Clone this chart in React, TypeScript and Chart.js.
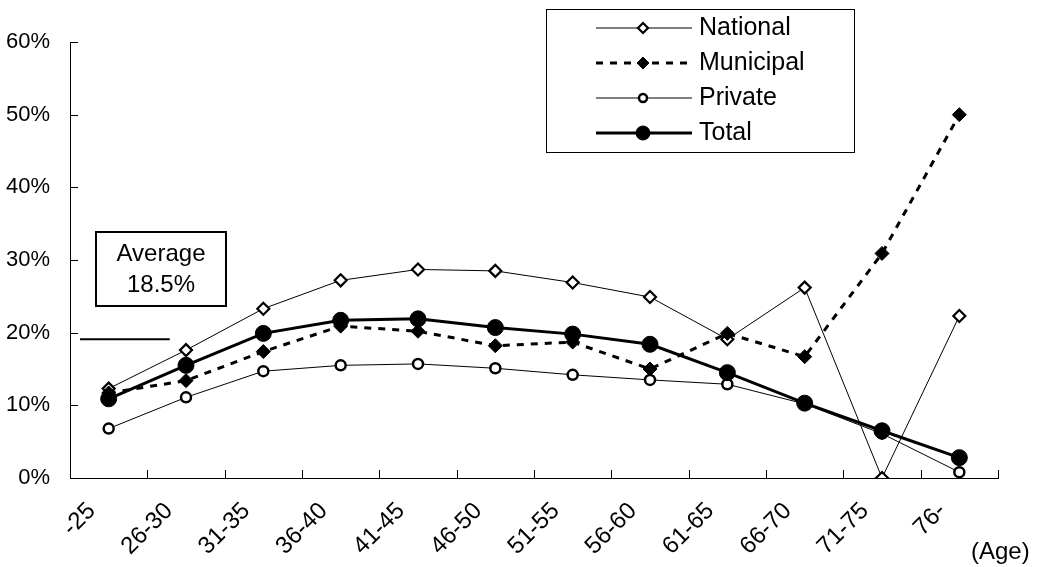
import React, { useEffect, useRef } from "react";
import { Chart, registerables } from "chart.js";

Chart.register(...registerables);

const ageLabels = ["-25", "26-30", "31-35", "36-40", "41-45", "46-50", "51-55", "56-60", "61-65", "66-70", "71-75", "76-"];
const nationalValues = [12.3, 17.6, 23.3, 27.2, 28.7, 28.5, 26.9, 24.9, 19.1, 26.2, 0, 22.3];
const municipalValues = [11.7, 13.4, 17.4, 20.9, 20.2, 18.2, 18.7, 15.0, 19.9, 16.7, 30.9, 50.0];
const privateValues = [6.8, 11.1, 14.7, 15.5, 15.7, 15.1, 14.2, 13.5, 12.9, 10.2, 6.1, 0.8];
const totalValues = [10.9, 15.5, 19.9, 21.7, 21.9, 20.7, 19.8, 18.4, 14.5, 10.3, 6.5, 2.8];
const yTickValues = [0, 10, 20, 30, 40, 50, 60];
const averageLineValue = 19.1;
const averageText = ["Average", "18.5%"];
const axisTitle = "(Age)";

const FONT = "'Liberation Sans', Arial, sans-serif";

type Series = {
  label: string;
  data: number[];
  width: number;
  dash: number[];
  style: "diamond" | "circle";
  filled: boolean;
  radius: number;
  pointBorder: number;
};

const seriesList: Series[] = [
  { label: "National", data: nationalValues, width: 1, dash: [], style: "diamond", filled: false, radius: 6, pointBorder: 2.2 },
  { label: "Municipal", data: municipalValues, width: 3, dash: [7, 7], style: "diamond", filled: true, radius: 7, pointBorder: 1 },
  { label: "Private", data: privateValues, width: 1, dash: [], style: "circle", filled: false, radius: 5, pointBorder: 2.5 },
  { label: "Total", data: totalValues, width: 3, dash: [], style: "circle", filled: true, radius: 8, pointBorder: 1 },
];

function drawMarker(ctx: CanvasRenderingContext2D, s: Series, cx: number, cy: number) {
  ctx.save();
  ctx.setLineDash([]);
  ctx.beginPath();
  if (s.style === "diamond") {
    const r = s.radius;
    ctx.moveTo(cx, cy - r);
    ctx.lineTo(cx + r, cy);
    ctx.lineTo(cx, cy + r);
    ctx.lineTo(cx - r, cy);
    ctx.closePath();
  } else {
    ctx.arc(cx, cy, s.radius, 0, Math.PI * 2);
  }
  ctx.fillStyle = s.filled ? "#000" : "#fff";
  ctx.fill();
  ctx.lineWidth = s.pointBorder;
  ctx.strokeStyle = "#000";
  ctx.stroke();
  ctx.restore();
}

const overlayPlugin = {
  id: "overlay",
  afterDraw(chart: any) {
    const { ctx, chartArea: a, scales } = chart;
    const x = scales.x;
    const y = scales.y;
    ctx.save();
    // inner ticks
    ctx.strokeStyle = "#000";
    ctx.lineWidth = 1;
    for (let i = 0; i <= ageLabels.length; i++) {
      const px = Math.round(x.getPixelForValue(i - 0.5)) + 0.5;
      ctx.beginPath();
      ctx.moveTo(px, a.bottom);
      ctx.lineTo(px, a.bottom - 8);
      ctx.stroke();
    }
    for (const v of yTickValues) {
      const py = Math.round(y.getPixelForValue(v)) + 0.5;
      ctx.beginPath();
      ctx.moveTo(a.left, py);
      ctx.lineTo(a.left + 8, py);
      ctx.stroke();
    }
    // average line
    const ay = y.getPixelForValue(averageLineValue);
    ctx.lineWidth = 2;
    ctx.beginPath();
    ctx.moveTo(x.getPixelForValue(-0.37), ay);
    ctx.lineTo(x.getPixelForValue(0.79), ay);
    ctx.stroke();
    // average box
    const bx = a.left + 26;
    const bw = 130;
    const by = 232;
    const bh = 74;
    ctx.lineWidth = 2;
    ctx.strokeRect(bx, by, bw, bh);
    ctx.fillStyle = "#000";
    ctx.font = `24px ${FONT}`;
    ctx.textAlign = "center";
    ctx.textBaseline = "middle";
    ctx.fillText(averageText[0], bx + bw / 2, by + 22);
    ctx.fillText(averageText[1], bx + bw / 2, by + 53);
    // legend
    const lx = 546;
    const ly = 9;
    const lw = 308;
    const lh = 143;
    ctx.fillStyle = "#fff";
    ctx.fillRect(lx, ly, lw, lh);
    ctx.lineWidth = 1;
    ctx.strokeStyle = "#000";
    ctx.strokeRect(lx + 0.5, ly + 0.5, lw, lh);
    seriesList.forEach((s, i) => {
      const ry = ly + 19 + i * 35;
      ctx.save();
      ctx.strokeStyle = "#000";
      ctx.lineWidth = s.width;
      ctx.setLineDash(s.dash);
      ctx.beginPath();
      ctx.moveTo(lx + 50, ry);
      ctx.lineTo(lx + 146, ry);
      ctx.stroke();
      ctx.restore();
      drawMarker(ctx, { ...s, radius: s.radius - 1 }, lx + 97, ry);
      ctx.fillStyle = "#000";
      ctx.font = `25px ${FONT}`;
      ctx.textAlign = "left";
      ctx.textBaseline = "middle";
      ctx.fillText(s.label, lx + 153, ry);
    });
    // axis title
    ctx.font = `24px ${FONT}`;
    ctx.textAlign = "left";
    ctx.textBaseline = "middle";
    ctx.fillStyle = "#000";
    ctx.fillText(axisTitle, 971, 552);
    ctx.restore();
  },
};

export default function App() {
  const canvasRef = useRef<HTMLCanvasElement | null>(null);

  useEffect(() => {
    document.body.style.margin = "0";
    const canvas = canvasRef.current;
    if (!canvas) return;
    const datasets = seriesList.map((s) => ({
      label: s.label,
      data: s.data,
      borderColor: "#000",
      borderWidth: s.width,
      borderDash: s.dash,
      pointStyle: s.style === "diamond" ? "rectRot" : "circle",
      pointRadius: s.radius,
      pointBackgroundColor: s.filled ? "#000" : "#fff",
      pointBorderColor: "#000",
      pointBorderWidth: s.pointBorder,
      fill: false,
      tension: 0,
    }));
    const chart = new Chart(canvas, {
      type: "line",
      data: { labels: ageLabels, datasets: datasets.slice().reverse() as any },
      options: {
        animation: false,
        responsive: true,
        maintainAspectRatio: false,
        layout: { padding: { top: 42, right: 39, left: 0, bottom: 0 } },
        plugins: { legend: { display: false }, tooltip: { enabled: false } },
        scales: {
          x: {
            type: "category",
            offset: true,
            grid: { display: false },
            border: { display: true, color: "#000", width: 1 },
            ticks: {
              autoSkip: false,
              minRotation: 45,
              maxRotation: 45,
              color: "#000",
              font: { family: FONT, size: 24 },
              padding: 11,
              labelOffset: -17,
            },
            afterFit: (scale: any) => {
              scale.height = 89;
              scale.paddingLeft = 0;
              scale.paddingRight = 0;
            },
          },
          y: {
            min: 0,
            max: 60,
            grid: { display: false },
            border: { display: true, color: "#000", width: 1 },
            ticks: {
              stepSize: 10,
              color: "#000",
              font: { family: FONT, size: 22 },
              padding: 12,
              callback: (v: any) => `${v}%`,
            },
            afterFit: (scale: any) => {
              scale.width = 70;
              scale.paddingTop = 0;
              scale.paddingBottom = 0;
            },
          },
        },
      },
      plugins: [overlayPlugin],
    });
    return () => chart.destroy();
  }, []);

  return (
    <div style={{ position: "absolute", left: 0, top: 0, width: 1037, height: 567 }}>
      <canvas ref={canvasRef} />
    </div>
  );
}
